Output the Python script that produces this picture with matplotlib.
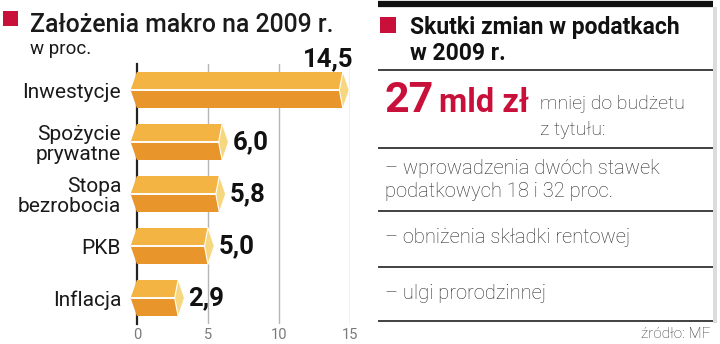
import matplotlib
matplotlib.use("Agg")
import matplotlib.pyplot as plt
from matplotlib.patches import Rectangle, Polygon

# ---- data ----
categories = ["Inwestycje", "Spożycie\nprywatne", "Stopa\nbezrobocia", "PKB", "Inflacja"]
values = [14.5, 6.0, 5.8, 5.0, 2.9]
value_labels = ["14,5", "6,0", "5,8", "5,0", "2,9"]
x_ticks = [0, 5, 10, 15]

left_title = "Założenia makro na 2009 r."
left_subtitle = "w proc."
right_title = ["Skutki zmian w podatkach", "w 2009 r."]
big_number = "27"
big_unit = "mld zł"
big_note = ["mniej do budżetu", "z tytułu:"]
items = [["– wprowadzenia dwóch stawek", "podatkowych 18 i 32 proc."],
         ["– obniżenia składki rentowej"],
         ["– ulgi prorodzinnej"]]
source = "źródło: MF"

# ---- style ----
RED = "#C8103A"
TOP = "#F3B443"
BOT = "#E8952B"
CAP = "#F7D680"
FONT = ["Roboto", "DejaVu Sans"]
plt.rcParams["font.family"] = FONT

W, H = 720, 344
fig = plt.figure(figsize=(W / 100, H / 100), dpi=100)

# overlay in pixel coordinates
ov = fig.add_axes([0, 0, 1, 1], zorder=0)
ov.set_xlim(0, W)
ov.set_ylim(H, 0)
ov.axis("off")

# ---- left panel ----
ov.add_patch(Rectangle((3, 11), 15, 15, color=RED, lw=0))
ov.text(30, 32, left_title, fontsize=17.8, fontweight="medium", color="#1a1a1a", va="baseline")
ov.text(30, 54, left_subtitle, fontsize=13.5, color="#1a1a1a", va="baseline")

x0px, x15px = 137, 350
top_px, bot_px = 64, 324
ax = fig.add_axes([x0px / W, 1 - bot_px / H, (x15px - x0px) / W, (bot_px - top_px) / H], zorder=1)
ax.patch.set_alpha(0)
ax.set_xlim(0, 15)
ax.set_ylim(len(values) - 0.5, -0.5)
for s in ["top", "right", "bottom"]:
    ax.spines[s].set_visible(False)
ax.spines["left"].set_color("#222222")
ax.spines["left"].set_linewidth(1.6)
ax.spines["left"].set_zorder(0.5)
ax.set_xticks(x_ticks)
ax.set_xticklabels([str(t) for t in x_ticks])
ax.tick_params(axis="x", length=0, pad=3, labelsize=10.5, labelcolor="#7a7a7a")
ax.set_yticks(range(len(categories)))
ax.set_yticklabels(categories, fontsize=15, color="#1a1a1a", linespacing=1.05)
ax.tick_params(axis="y", length=0, pad=11.5)
for t in x_ticks[1:]:
    ax.axvline(t, color="#b5b5b5", lw=1.0, zorder=0.4)

h = 0.71
pt = 0.45   # left point depth
cw = 0.25   # cap inner depth
co = 0.45   # cap outer depth
for i, v in enumerate(values):
    ax.barh(i - h / 4, v, height=h / 2, color=TOP, lw=0, zorder=2)
    ax.barh(i + h / 4, v, height=h / 2, color=BOT, lw=0, zorder=2)
    ax.add_patch(Polygon([(0, i - h / 2), (-pt, i), (0, i)], closed=True, color=TOP, lw=0, zorder=2, clip_on=False))
    ax.add_patch(Polygon([(0, i), (-pt, i), (0, i + h / 2)], closed=True, color=BOT, lw=0, zorder=2, clip_on=False))
    ax.add_patch(Polygon([(v, i - h / 2), (v + co, i), (v, i + h / 2), (v - cw, i)], closed=True,
                         facecolor=CAP, edgecolor="white", lw=0.8, zorder=3, clip_on=False))
    ax.plot([-pt, v - cw], [i, i], color="white", lw=1.4, zorder=2.5, solid_capstyle="butt", clip_on=False)
    if v > 12:
        ax.text(v + co + 0.3, i - h / 2, value_labels[i], ha="right", va="bottom",
                fontsize=18.5, fontweight="bold", color="#111111")
    else:
        ax.text(v + 0.72, i, value_labels[i], ha="left", va="center",
                fontsize=18.5, fontweight="bold", color="#111111")

# ---- right panel ----
L, R = 378, 713
# shadow
ov.add_patch(Rectangle((R, 7), 4, 316, color="#dcdcdc", lw=0))
ov.plot([L, R], [4, 4], color="#111111", lw=4.5, solid_capstyle="butt")
for yl in [70, 148, 211, 267, 321]:
    ov.plot([L, R], [yl, yl], color="#333333", lw=1.3, solid_capstyle="butt")
ov.add_patch(Rectangle((380, 17), 16, 16, color=RED, lw=0))
ov.text(410, 34, right_title[0], fontsize=16.5, fontweight="bold", color="#111111", va="baseline")
ov.text(410, 60, right_title[1], fontsize=16.5, fontweight="bold", color="#111111", va="baseline")
ov.text(384, 112, big_number, fontsize=31, fontweight="bold", color=RED, va="baseline")
ov.text(439, 112, big_unit, fontsize=23.5, fontweight="bold", color=RED, va="baseline")
ov.text(540, 109, big_note[0], fontsize=14, color="#2a2a2a", va="baseline", fontweight="light")
ov.text(540, 135, big_note[1], fontsize=14, color="#2a2a2a", va="baseline", fontweight="light")
item_y = [[174, 197], [243], [299]]
for lines, ys in zip(items, item_y):
    for txt, yy in zip(lines, ys):
        ov.text(385, yy, txt, fontsize=14.5, color="#2a2a2a", va="baseline", fontweight="light")
ov.text(710, 338, source, fontsize=11, color="#333333", ha="right", va="baseline", fontweight="light")

fig.savefig("out.png", dpi=100)
